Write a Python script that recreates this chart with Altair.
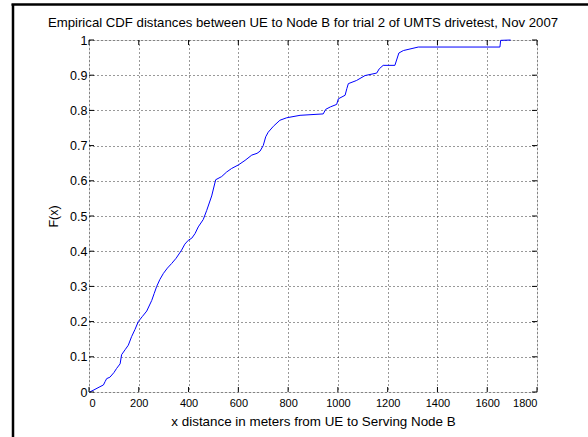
import altair as alt
import pandas as pd

# Empirical CDF
dist_m = [3, 20, 44, 58, 65, 71, 84, 100, 111, 125, 131, 145, 158, 171, 185, 198,
          215, 232, 252, 262, 272, 285, 299, 315, 332, 350, 372, 385, 399, 413,
          426, 439, 459, 473, 493, 509, 533, 553, 573, 600, 627, 654, 675, 687,
          700, 710, 720, 741, 767, 794, 848, 941, 951, 970, 995, 1002, 1029,
          1036, 1042, 1075, 1109, 1156, 1166, 1182, 1229, 1245, 1263, 1323,
          1651, 1654, 1694]
cdf = [0.0, 0.006, 0.015, 0.02, 0.03, 0.038, 0.042, 0.055, 0.067, 0.08, 0.106,
       0.12, 0.133, 0.157, 0.178, 0.2, 0.215, 0.23, 0.26, 0.28, 0.30, 0.32,
       0.337, 0.352, 0.365, 0.38, 0.403, 0.42, 0.431, 0.437, 0.45, 0.469, 0.49,
       0.516, 0.557, 0.603, 0.612, 0.625, 0.635, 0.645, 0.658, 0.673, 0.678,
       0.684, 0.70, 0.725, 0.738, 0.755, 0.772, 0.779, 0.786, 0.79, 0.803,
       0.81, 0.817, 0.833, 0.843, 0.862, 0.876, 0.885, 0.899, 0.906, 0.918,
       0.928, 0.928, 0.963, 0.97, 0.98, 0.98, 0.999, 1.0]

x_ticks = [0, 200, 400, 600, 800, 1000, 1200, 1400, 1600, 1800]
y_ticks = [0, 0.1, 0.2, 0.3, 0.4, 0.5, 0.6, 0.7, 0.8, 0.9, 1.0]

title_text = "Empirical CDF distances between UE to Node B for trial 2 of UMTS drivetest, Nov 2007"
x_title = "x distance in meters from UE to Serving Node B"
y_title = "F(x)"

W, H = 448, 352
FONT = "Liberation Sans"

df = pd.DataFrame({"x": dist_m, "F": cdf})
dfx = pd.DataFrame({"t": x_ticks})
dfy = pd.DataFrame({"t": y_ticks})
dft = pd.DataFrame({"label": [title_text]})

xs = alt.Scale(domain=[0, 1800], nice=False, zero=False)
ys = alt.Scale(domain=[0, 1], nice=False, zero=False)

x_axis = alt.Axis(
    values=x_ticks, format="d", title=x_title, grid=True,
    gridDash=[1, 3], gridColor="#000000", gridOpacity=0.8,
    tickSize=0, labelPadding=5, titlePadding=6, labelOverlap=False,
    labelFontSize=11, titleFontSize=13.4,
    titleFontWeight="normal", domain=False)
y_axis = alt.Axis(
    values=y_ticks, format="~g", title=y_title, grid=True,
    gridDash=[1, 3], gridColor="#000000", gridOpacity=0.8,
    tickSize=0, labelPadding=2, titlePadding=9, labelOverlap=False,
    labelFontSize=12.5, titleFontSize=12.5,
    titleFontWeight="normal", domain=False)

line = alt.Chart(df).mark_line(color="#0000ff", strokeWidth=1).encode(
    x=alt.X("x:Q", scale=xs, axis=x_axis, title=x_title),
    y=alt.Y("F:Q", scale=ys, axis=y_axis, title=y_title),
    order=alt.Order("x:Q"),
)

tick_left = alt.Chart(dfy).mark_rule(color="#000000").encode(
    y=alt.Y("t:Q", scale=ys, axis=y_axis, title=y_title), x=alt.value(0), x2=alt.value(5))
tick_right = alt.Chart(dfy).mark_rule(color="#000000").encode(
    y=alt.Y("t:Q", scale=ys, axis=y_axis, title=y_title), x=alt.value(W - 5), x2=alt.value(W))
tick_bottom = alt.Chart(dfx).mark_rule(color="#000000").encode(
    x=alt.X("t:Q", scale=xs, axis=x_axis, title=x_title), y=alt.value(H - 5), y2=alt.value(H))
tick_top = alt.Chart(dfx).mark_rule(color="#000000").encode(
    x=alt.X("t:Q", scale=xs, axis=x_axis, title=x_title), y=alt.value(0), y2=alt.value(5))

frame_left = alt.Chart(dft).mark_rule(color="#000000", strokeWidth=2.5).encode(
    x=alt.value(-76), y=alt.value(-36), y2=alt.value(400))
frame_top = alt.Chart(dft).mark_rule(color="#000000", strokeWidth=2.5).encode(
    y=alt.value(-35.5), x=alt.value(-77.5), x2=alt.value(510))

title = alt.Chart(dft).mark_text(
    font=FONT, fontSize=13.2, color="#000000", align="center", baseline="alphabetic"
).encode(text="label:N", x=alt.value(W / 2 - 10), y=alt.value(-13))

chart = alt.layer(
    line, tick_left, tick_right, tick_bottom, tick_top, frame_left, frame_top, title
).properties(
    width=W, height=H,
    autosize=alt.AutoSizeParams(type="none"),
    padding={"left": 89, "top": 40, "right": 51, "bottom": 45},
).configure_view(
    stroke="#000000", strokeWidth=1
).configure_axis(
    labelFont=FONT, titleFont=FONT,
    labelColor="#000000", titleColor="#000000", titleFontWeight="normal",
).configure(background="#ffffff")

chart.save("out.html", embed_options={"renderer": "svg", "actions": False})
